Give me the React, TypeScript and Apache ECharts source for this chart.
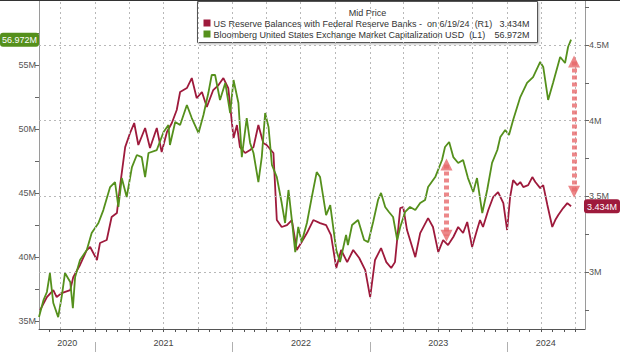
import React, { useEffect, useRef } from "react";
import * as echarts from "echarts";

// Bloomberg United States Exchange Market Capitalization USD (L1), millions shown as "M"
const greenDates = [
  "2020-08-05","2020-08-17","2020-08-26","2020-09-03","2020-09-12","2020-09-25","2020-10-05","2020-10-13","2020-10-27","2020-11-03",
  "2020-11-09","2020-11-22","2020-12-10","2020-12-23","2021-01-10","2021-01-23","2021-02-10","2021-02-23","2021-03-04","2021-03-13",
  "2021-03-26","2021-04-09","2021-04-22","2021-05-05","2021-05-14","2021-05-23","2021-06-14","2021-07-02","2021-07-15","2021-07-19",
  "2021-08-02","2021-08-15","2021-09-02","2021-09-15","2021-10-03","2021-10-16","2021-10-29","2021-11-07","2021-11-16","2021-11-29",
  "2021-12-13","2021-12-26","2022-01-04","2022-01-17","2022-01-26","2022-02-08","2022-02-17","2022-02-26","2022-03-11","2022-03-20",
  "2022-03-29","2022-04-07","2022-04-16","2022-04-29","2022-05-12","2022-05-21","2022-05-30","2022-06-08","2022-06-17","2022-06-25",
  "2022-07-04","2022-07-18","2022-07-31","2022-08-13","2022-08-22","2022-09-07","2022-09-18","2022-10-04","2022-10-14","2022-10-30",
  "2022-11-04","2022-11-15","2022-12-01","2022-12-17","2022-12-28","2023-01-10","2023-01-23","2023-01-31","2023-02-11","2023-02-21",
  "2023-03-04","2023-03-15","2023-03-23","2023-04-05","2023-04-18","2023-05-02","2023-05-15","2023-05-28","2023-06-05","2023-06-24",
  "2023-07-12","2023-07-20","2023-07-31","2023-08-11","2023-08-24","2023-09-06","2023-09-19","2023-10-03","2023-10-13","2023-10-27",
  "2023-11-09","2023-11-22","2023-12-06","2023-12-14","2023-12-27","2024-01-06","2024-01-17","2024-02-05","2024-02-23","2024-03-10",
  "2024-03-29","2024-04-06","2024-04-19","2024-05-02","2024-05-21","2024-06-03","2024-06-11","2024-06-19"
];
const greenValues = [
  35.3,36.63,37.26,38.74,36.4,35.3,37.02,38.74,38.04,36.0,
  38.43,39.76,40.54,41.87,42.65,43.66,45.46,45.85,43.9,46.16,
  44.68,47.02,47.96,47.8,46.24,48.12,48.35,49.76,50.3,48.74,
  50.54,50.3,51.87,50.85,49.68,51.09,52.8,54.21,54.21,52.26,
  53.59,51.24,53.82,52.02,47.8,50.85,48.9,48.12,45.85,47.8,
  51.24,50.15,47.18,46.24,44.21,42.65,45.23,42.88,40.38,42.34,
  41.16,42.65,44.68,46.63,46.24,43.27,44.05,40.54,39.6,41.71,
  40.93,42.49,42.88,41.32,41.16,42.73,44.45,45.0,43.9,43.51,
  43.12,41.32,42.34,43.51,43.9,43.66,44.21,44.45,45.46,46.24,
  47.57,48.59,48.98,47.8,47.34,47.57,46.16,45.07,46.16,43.43,
  45.23,47.34,48.35,49.37,49.91,49.52,50.7,52.49,53.59,54.05,
  55.23,54.84,52.26,53.59,55.62,55.15,56.4,56.972
];

// US Reserve Balances with Federal Reserve Banks (R1)
const redDates = [
  "2020-08-08","2020-08-26","2020-09-12","2020-09-21","2020-10-04","2020-10-27","2020-11-04","2020-11-22","2020-12-10","2020-12-19",
  "2021-01-06","2021-01-14","2021-02-01","2021-02-14","2021-02-28","2021-03-08","2021-03-22","2021-04-04","2021-04-15","2021-04-26",
  "2021-05-14","2021-05-27","2021-06-14","2021-06-27","2021-07-11","2021-07-24","2021-08-06","2021-08-15","2021-09-02","2021-09-15",
  "2021-09-28","2021-10-12","2021-10-25","2021-11-11","2021-11-25","2021-12-08","2021-12-21","2022-01-04","2022-01-13","2022-01-21",
  "2022-02-04","2022-02-17","2022-02-26","2022-03-11","2022-03-24","2022-04-02","2022-04-20","2022-04-29","2022-05-12","2022-05-26",
  "2022-06-08","2022-06-21","2022-07-04","2022-07-18","2022-08-04","2022-08-22","2022-09-07","2022-09-20","2022-10-04","2022-10-17",
  "2022-11-02","2022-11-18","2022-12-04","2022-12-20","2023-01-02","2023-01-15","2023-01-31","2023-02-14","2023-02-27","2023-03-09",
  "2023-03-23","2023-03-31","2023-04-10","2023-05-02","2023-05-15","2023-06-05","2023-06-18","2023-07-02","2023-07-15","2023-07-28",
  "2023-08-11","2023-08-24","2023-09-06","2023-09-17","2023-09-30","2023-10-13","2023-10-21","2023-10-29","2023-11-12","2023-11-25",
  "2023-12-08","2023-12-22","2024-01-01","2024-01-09","2024-01-17","2024-01-28","2024-02-05","2024-02-13","2024-02-26","2024-03-08",
  "2024-03-16","2024-03-29","2024-04-06","2024-04-17","2024-04-30","2024-05-08","2024-05-16","2024-05-29","2024-06-09","2024-06-19"
];
const redValues = [
  2.748,2.834,2.88,2.834,2.86,2.88,2.966,3.046,3.145,3.165,
  3.079,3.191,3.211,3.363,3.389,3.561,3.825,3.918,3.984,3.839,
  3.951,3.819,3.951,3.792,3.925,3.984,4.07,4.189,4.215,4.281,
  4.149,4.189,4.09,4.202,4.235,4.281,4.215,3.885,3.971,3.825,
  3.786,3.806,3.825,3.971,3.852,3.839,3.786,3.343,3.297,3.31,
  3.343,3.145,3.198,3.257,3.343,3.323,3.31,3.244,3.026,3.145,
  3.065,3.145,3.092,3.012,2.834,3.079,3.158,3.065,3.026,3.065,
  3.422,3.429,3.277,3.098,3.257,3.356,3.297,3.131,3.211,3.178,
  3.231,3.297,3.257,3.33,3.165,3.277,3.343,3.297,3.409,3.495,
  3.528,3.455,3.277,3.495,3.607,3.574,3.594,3.561,3.574,3.627,
  3.594,3.554,3.574,3.442,3.297,3.343,3.376,3.422,3.455,3.434
];

// annotation arrows (on the right axis)
const arrowDates = ["2023-07-24", "2024-06-27"];
const arrowTop = [3.71, 4.39];
const arrowBottom = [3.24, 3.53];

// axis ticks and labels
const leftLabels = [35, 40, 45, 50, 55];
const leftTicks = [35, 37.5, 40, 42.5, 45, 47.5, 50, 52.5, 55, 57.5];
const rightLabels = [3, 3.5, 4, 4.5];
const rightTicks = [2.75, 3, 3.25, 3.5, 3.75, 4, 4.25, 4.5, 4.75];
const yearStarts = ["2021-01-01", "2022-01-01", "2023-01-01", "2024-01-01"];
const yearLabelPos = ["2020-10-19", "2021-07-02", "2022-07-02", "2023-07-02", "2024-04-13"];
const quarterLines = [
  "2020-10-01","2021-01-01","2021-04-01","2021-07-01","2021-10-01","2022-01-01","2022-04-01","2022-07-01",
  "2022-10-01","2023-01-01","2023-04-01","2023-07-01","2023-10-01","2024-01-01","2024-04-01","2024-07-01"
];

const X_MIN = "2020-08-05";
const X_MAX = "2024-07-26";
const LEFT_MIN = 34.37, LEFT_MAX = 60.07;
const RIGHT_MIN = 2.623, RIGHT_MAX = 4.797;

const RED = "#9e1a3c";
const GREEN = "#55901c";
const FONT = "Liberation Sans";

const t = (s: string) => Date.parse(s);

export default function App() {
  const ref = useRef<HTMLDivElement>(null);
  useEffect(() => {
    document.body.style.margin = "0";
    if (!ref.current) return;
    const chart = echarts.init(ref.current, undefined, { renderer: "svg" });

    const monthTicks: number[] = [];
    for (let y = 2020; y <= 2024; y++) {
      for (let m = 0; m < 12; m++) {
        const v = Date.UTC(y, m, 1);
        if (v > t(X_MIN) && v < t(X_MAX)) monthTicks.push(v);
      }
    }
    const greenData = greenDates.map((d, i) => [t(d), greenValues[i]]);
    const redData = redDates.map((d, i) => [t(d), redValues[i]]);
    const greenLast = greenValues[greenValues.length - 1];
    const redLast = redValues[redValues.length - 1];
    const fmtM = (v: number) => `${v}M`;

    const gridLine = { color: "#b8b8b8", type: [2, 3] as any, width: 1 };
    const legendFont = `9px ${FONT}`;

    chart.setOption({
      animation: false,
      backgroundColor: "#ffffff",
      textStyle: { fontFamily: FONT },
      grid: { left: 39, right: 35, top: 0, bottom: 23, containLabel: false },
      xAxis: [
        {
          type: "value",
          min: t(X_MIN),
          max: t(X_MAX),
          axisLine: { show: true, lineStyle: { color: "#555", width: 1 } },
          axisTick: { show: true, customValues: monthTicks, length: 3, lineStyle: { color: "#555" } },
          axisLabel: {
            show: true,
            customValues: yearLabelPos.map(t),
            formatter: (v: number) => String(new Date(v).getUTCFullYear()),
            color: "#444",
            fontSize: 9,
            margin: 9,
            fontFamily: FONT,
          },
          splitLine: { show: false },
        },
        {
          type: "value",
          min: t(X_MIN),
          max: t(X_MAX),
          position: "bottom",
          offset: 13,
          axisLine: { show: false },
          axisTick: { show: true, customValues: yearStarts.map(t), length: 10, lineStyle: { color: "#b0b0b0" } },
          axisLabel: { show: false },
          splitLine: { show: false },
        },
      ],
      yAxis: [
        {
          type: "value",
          position: "left",
          min: LEFT_MIN,
          max: LEFT_MAX,
          axisLine: { show: true, lineStyle: { color: "#9a9a9a" } },
          axisTick: { show: true, customValues: leftTicks, length: 4, lineStyle: { color: "#666" } },
          axisLabel: { customValues: leftLabels, formatter: fmtM, color: "#555", fontSize: 9, margin: 3, fontFamily: FONT },
          splitLine: { show: false },
          axisPointer: {
            show: true,
            value: greenLast,
            status: "show",
            type: "none",
            triggerTooltip: false,
            label: {
              show: true,
              formatter: () => `${greenLast.toFixed(3)}M`,
              backgroundColor: GREEN,
              color: "#fff",
              fontSize: 9,
              fontFamily: FONT,
              padding: [3, 2, 2, 2],
              borderRadius: 3,
              margin: 1,
            },
          },
        },
        {
          type: "value",
          position: "right",
          min: RIGHT_MIN,
          max: RIGHT_MAX,
          axisLine: { show: true, lineStyle: { color: "#9a9a9a" } },
          axisTick: { show: true, customValues: rightTicks, length: 4, lineStyle: { color: "#666" } },
          axisLabel: { customValues: rightLabels, formatter: fmtM, color: "#555", fontSize: 9, margin: 4, fontFamily: FONT },
          splitLine: { show: false },
          axisPointer: {
            show: true,
            value: redLast,
            status: "show",
            type: "none",
            triggerTooltip: false,
            label: {
              show: true,
              formatter: () => `${redLast.toFixed(3)}M`,
              backgroundColor: RED,
              color: "#fff",
              fontSize: 9,
              fontFamily: FONT,
              padding: [3, 3, 2, 3],
              borderRadius: 3,
              margin: 2,
            },
          },
        },
      ],
      series: [
        {
          name: "grid",
          type: "line",
          xAxisIndex: 0,
          yAxisIndex: 1,
          data: [],
          z: 1,
          silent: true,
          markLine: {
            silent: true,
            symbol: "none",
            label: { show: false },
            lineStyle: gridLine,
            data: [
              ...rightLabels.map((v) => ({ yAxis: v })),
              ...quarterLines.map((d) => ({ xAxis: t(d) })),
            ],
          },
        },
        {
          name: "US Reserve Balances with Federal Reserve Banks",
          type: "line",
          xAxisIndex: 0,
          yAxisIndex: 1,
          data: redData,
          showSymbol: false,
          z: 3,
          lineStyle: { color: RED, width: 1.8 },
          itemStyle: { color: RED },
        },
        {
          name: "Bloomberg United States Exchange Market Capitalization USD",
          type: "line",
          xAxisIndex: 0,
          yAxisIndex: 0,
          data: greenData,
          showSymbol: false,
          z: 4,
          lineStyle: { color: GREEN, width: 1.8 },
          itemStyle: { color: GREEN },
        },
        {
          name: "arrows",
          type: "line",
          xAxisIndex: 0,
          yAxisIndex: 1,
          data: [],
          z: 6,
          silent: true,
          markLine: {
            silent: true,
            symbol: ["triangle", "triangle"],
            symbolSize: [12, 12],
            label: { show: false },
            lineStyle: { color: "#e7696b", width: 5, type: [4, 3] as any, opacity: 0.8 },
            itemStyle: { color: "#e7696b", opacity: 0.85 },
            data: arrowDates.map((d, i) => [
              { coord: [t(d), arrowTop[i]] },
              { coord: [t(d), arrowBottom[i]] },
            ]),
          },
        },
      ],
      graphic: [
        {
          type: "line",
          shape: { x1: 0, y1: 0.5, x2: 620, y2: 0.5 },
          style: { stroke: "#333", lineWidth: 1 },
          z: 100,
        },
        {
          type: "group",
          left: 197,
          top: 1,
          z: 100,
          children: [
            {
              type: "rect",
              shape: { x: 0, y: 0, width: 340, height: 41 },
              style: { fill: "#fff", stroke: "#555", lineWidth: 1, shadowBlur: 2, shadowOffsetX: 1, shadowOffsetY: 1, shadowColor: "rgba(0,0,0,0.3)" },
            },
            {
              type: "text",
              x: 170,
              y: 11,
              style: { text: "Mid Price", fill: "#333", font: legendFont, align: "center", verticalAlign: "middle" },
            },
            { type: "rect", shape: { x: 6, y: 18, width: 7, height: 7 }, style: { fill: RED } },
            {
              type: "text",
              x: 16,
              y: 22,
              style: { text: "US Reserve Balances with Federal Reserve Banks -  on 6/19/24  (R1)", fill: "#333", font: legendFont, verticalAlign: "middle" },
            },
            {
              type: "text",
              x: 332,
              y: 22,
              style: { text: `${redLast.toFixed(3)}M`, fill: "#333", font: legendFont, align: "right", verticalAlign: "middle" },
            },
            { type: "rect", shape: { x: 6, y: 29, width: 7, height: 7 }, style: { fill: GREEN } },
            {
              type: "text",
              x: 16,
              y: 33,
              style: { text: "Bloomberg United States Exchange Market Capitalization USD  (L1)", fill: "#333", font: legendFont, verticalAlign: "middle" },
            },
            {
              type: "text",
              x: 332,
              y: 33,
              style: { text: `${greenLast.toFixed(3)}M`, fill: "#333", font: legendFont, align: "right", verticalAlign: "middle" },
            },
          ],
        },
      ],
    });
    return () => chart.dispose();
  }, []);
  return <div ref={ref} style={{ width: 620, height: 352 }} />;
}
